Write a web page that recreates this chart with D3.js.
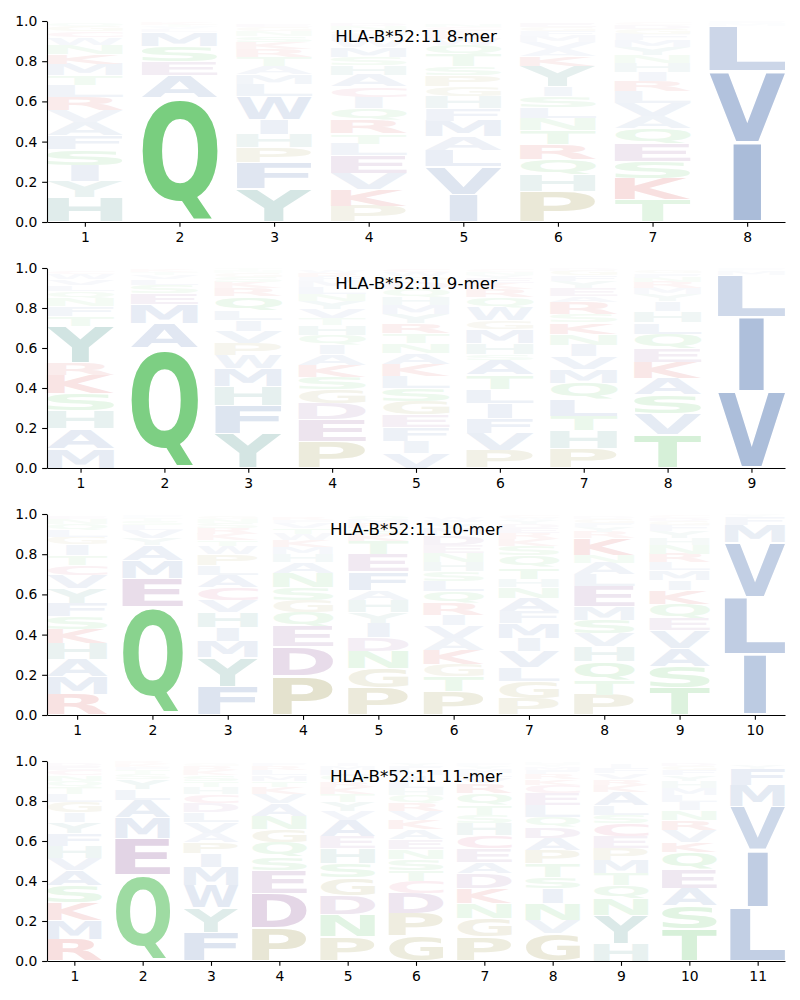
<!DOCTYPE html>
<html><head><meta charset="utf-8">
<script src="https://cdn.jsdelivr.net/npm/d3@7"></script>
<style>body{margin:0;background:#fff}</style>
</head><body>
<svg id="chart" width="800" height="1000"></svg>
<script>
const titles = ["HLA-B*52:11 8-mer","HLA-B*52:11 9-mer","HLA-B*52:11 10-mer","HLA-B*52:11 11-mer"];
const yTicks = [0,0.2,0.4,0.6,0.8,1.0];

// each column: letters stacked bottom -> top, [letter, probability]
const mer8 = [
 [["H",.12],["Y",.083],["I",.08],["S",.078],["F",.07],["A",.066],["V",.058],["R",.066],["L",.059],["T",.049],["M",.058],["K",.05],["N",.045],["W",.035],["C",.03],["G",.025],["Q",.018]],
 [["Q",.62],["A",.11],["E",.07],["S",.075],["M",.07],["L",.015],["V",.01],["T",.01],["K",.01]],
 [["Y",.165],["F",.13],["P",.075],["H",.065],["I",.075],["W",.115],["L",.06],["M",.05],["A",.04],["T",.045],["R",.04],["K",.035],["S",.03],["N",.025],["G",.02],["E",.015]],
 [["P",.08],["K",.083],["V",.078],["E",.09],["L",.058],["T",.05],["R",.067],["Q",.058],["I",.058],["C",.05],["A",.058],["H",.05],["S",.04],["M",.05],["W",.03],["F",.03],["G",.025],["N",.02],["D",.015]],
 [["I",.137],["V",.138],["L",.083],["A",.067],["M",.078],["F",.063],["H",.058],["G",.05],["P",.054],["S",.045],["T",.058],["Q",.05],["W",.03],["R",.025],["K",.02],["C",.015],["N",.015]],
 [["P",.154],["H",.083],["Q",.077],["R",.073],["T",.071],["N",.058],["L",.053],["S",.055],["I",.05],["Y",.099],["K",.05],["A",.035],["V",.035],["M",.03],["F",.025],["G",.02],["E",.02]],
 [["T",.11],["K",.107],["S",.082],["E",.091],["Q",.075],["A",.06],["V",.065],["L",.058],["R",.053],["I",.045],["H",.045],["N",.04],["Y",.04],["M",.035],["F",.03],["G",.025],["D",.02],["C",.01]],
 [["I",.395],["V",.354],["L",.225],["M",.01],["F",.01]]
];
const mer9 = [
 [["M",.098],["A",.1],["H",.089],["S",.086],["K",.092],["R",.062],["Y",.183],["T",.05],["F",.05],["N",.04],["Q",.035],["L",.03],["V",.03],["W",.025],["C",.015]],
 [["Q",.6],["A",.125],["M",.095],["E",.055],["S",.04],["L",.03],["V",.02],["T",.015],["K",.01]],
 [["Y",.173],["F",.14],["H",.095],["M",.09],["W",.065],["P",.06],["V",.06],["I",.055],["L",.05],["Q",.07],["R",.04],["K",.03],["S",.025],["G",.02],["N",.01],["T",.01]],
 [["P",.132],["E",.11],["D",.08],["G",.072],["S",.062],["K",.058],["A",.053],["I",.047],["Q",.05],["H",.05],["T",.033],["V",.045],["Y",.04],["N",.035],["L",.035],["M",.03],["F",.025],["R",.02],["W",.015]],
 [["V",.075],["I",.06],["F",.07],["E",.06],["G",.07],["S",.065],["L",.06],["K",.06],["A",.055],["N",.05],["T",.05],["R",.05],["Y",.045],["M",.045],["H",.04],["Q",.04],["D",.035],["P",.03],["W",.02],["C",.015]],
 [["P",.087],["V",.086],["F",.075],["I",.075],["L",.07],["T",.072],["A",.075],["S",.03],["H",.055],["M",.067],["G",.045],["W",.065],["Q",.05],["R",.04],["K",.03],["E",.025],["Y",.02],["N",.015],["C",.01]],
 [["P",.098],["H",.089],["T",.073],["L",.083],["Q",.08],["M",.07],["V",.064],["I",.058],["N",.055],["K",.057],["S",.04],["R",.06],["A",.03],["E",.04],["Y",.035],["F",.03],["G",.025],["D",.01]],
 [["T",.165],["V",.105],["S",.095],["A",.083],["K",.079],["E",.071],["Q",.072],["L",.057],["H",.055],["I",.05],["Y",.035],["M",.03],["R",.03],["N",.025],["F",.02],["G",.015]],
 [["V",.382],["I",.375],["L",.21],["M",.02],["F",.01]]
];
const mer10 = [
 [["R",.1],["M",.091],["A",.087],["H",.078],["K",.072],["S",.061],["F",.067],["Y",.074],["V",.067],["C",.05],["T",.047],["I",.053],["G",.04],["L",.035],["Q",.03],["N",.025],["E",.015]],
 [["Q",.54],["E",.14],["M",.09],["A",.075],["Y",.035],["V",.04],["L",.025],["S",.02],["T",.015],["F",.01]],
 [["F",.141],["Y",.144],["M",.08],["I",.07],["H",.076],["V",.061],["C",.062],["A",.063],["L",.049],["P",.054],["W",.04],["T",.03],["K",.03],["R",.03],["S",.025],["N",.02],["G",.015]],
 [["P",.196],["D",.144],["E",.1],["Q",.071],["G",.061],["S",.062],["N",.071],["A",.055],["H",.04],["M",.035],["K",.035],["W",.03],["T",.03],["V",.025],["F",.015],["R",.015]],
 [["P",.136],["G",.096],["N",.087],["D",.066],["I",.071],["Y",.053],["H",.063],["A",.05],["F",.09],["E",.085],["T",.066],["K",.035],["S",.03],["R",.025],["M",.02],["Q",.015]],
 [["P",.116],["T",.075],["G",.061],["K",.071],["A",.058],["V",.063],["I",.053],["R",.059],["Q",.058],["L",.053],["S",.046],["H",.047],["N",.045],["E",.04],["D",.05],["M",.03],["Y",.025],["F",.02],["W",.015]],
 [["P",.083],["G",.083],["L",.07],["V",.079],["I",.066],["M",.075],["F",.058],["A",.067],["N",.055],["H",.04],["T",.058],["Q",.058],["S",.047],["K",.035],["R",.03],["E",.025],["D",.02],["Y",.02],["W",.01],["C",.01]],
 [["P",.1],["T",.074],["Q",.094],["H",.072],["V",.066],["S",.067],["M",.066],["E",.1],["L",.058],["A",.058],["N",.041],["K",.083],["R",.03],["Y",.025],["F",.02],["G",.02],["D",.01]],
 [["T",.136],["S",.105],["A",.091],["V",.088],["E",.061],["Q",.072],["K",.066],["I",.05],["M",.049],["L",.04],["R",.044],["N",.045],["H",.035],["Y",.035],["F",.03],["G",.02],["D",.015],["C",.01]],
 [["I",.3],["L",.284],["V",.273],["M",.088],["F",.04],["Y",.01]]
];
const mer11 = [
 [["R",.108],["M",.095],["K",.089],["S",.083],["A",.078],["V",.062],["H",.06],["F",.062],["Y",.057],["I",.047],["G",.053],["L",.04],["T",.035],["Q",.03],["N",.03],["C",.025],["E",.02],["D",.015]],
 [["Q",.432],["E",.183],["M",.1],["A",.088],["L",.055],["Y",.05],["S",.025],["T",.02],["F",.015],["K",.015],["R",.01]],
 [["F",.142],["Y",.123],["W",.113],["M",.092],["I",.067],["P",.058],["A",.045],["V",.055],["L",.05],["D",.045],["C",.045],["H",.035],["T",.03],["S",.03],["K",.025],["R",.02],["G",.01]],
 [["P",.165],["D",.172],["E",.116],["S",.067],["Q",.072],["G",.066],["N",.067],["A",.062],["V",.048],["K",.035],["T",.03],["M",.03],["L",.025],["R",.02],["F",.015]],
 [["P",.12],["N",.112],["D",.096],["G",.087],["S",.072],["H",.075],["E",.058],["A",.083],["V",.045],["Y",.047],["T",.04],["K",.035],["R",.03],["Q",.03],["L",.025],["M",.02],["I",.015]],
 [["G",.125],["P",.115],["D",.1],["C",.06],["T",.055],["S",.055],["N",.05],["E",.05],["A",.05],["K",.045],["V",.045],["R",.04],["Q",.04],["H",.035],["L",.035],["I",.03],["M",.025],["F",.02],["Y",.015]],
 [["P",.12],["G",.092],["N",.075],["K",.075],["D",.075],["A",.058],["E",.067],["C",.066],["H",.059],["S",.041],["T",.05],["Q",.059],["R",.05],["V",.03],["L",.025],["M",.02],["Y",.015],["F",.01]],
 [["G",.137],["V",.066],["N",.084],["I",.075],["S",.058],["T",.067],["P",.066],["A",.062],["D",.055],["Q",.05],["L",.058],["E",.059],["C",.041],["K",.03],["R",.025],["F",.02],["M",.015],["Y",.01],["H",.01]],
 [["H",.087],["Y",.141],["N",.084],["Q",.066],["T",.059],["M",.066],["P",.059],["E",.058],["C",.067],["S",.041],["L",.05],["A",.067],["K",.035],["R",.03],["V",.03],["F",.025],["I",.02]],
 [["T",.162],["S",.113],["A",.09],["E",.093],["Q",.087],["K",.05],["V",.058],["R",.05],["N",.05],["I",.04],["L",.035],["M",.035],["H",.035],["Y",.03],["F",.025],["G",.02],["D",.015]],
 [["L",.27],["I",.283],["V",.217],["M",.108],["F",.084],["Y",.02]]
];

const letterGroup = {A:"hyd",V:"hyd",L:"hyd",I:"hyd",M:"hyd",F:"hyd",W:"hyd",
  Q:"pol",S:"pol",T:"pol",N:"pol", Y:"aro",H:"aro", P:"sml",G:"sml", D:"acd",E:"acd", K:"bas",R:"bas", C:"cys"};
const groupColor = {hyd:"rgb(76,114,176)", pol:"rgb(68,186,76)", aro:"rgb(64,141,132)",
  sml:"rgb(150,142,60)", acd:"rgb(135,75,145)", bas:"rgb(205,45,45)", cys:"rgb(205,60,110)"};

const datasets = [mer8, mer9, mer10, mer11];
const layout = [{top:21,bottom:222},{top:268,bottom:468},{top:514,bottom:715},{top:761,bottom:961}];
const left = 47, right = 785;
const FONT = '"DejaVu Sans", sans-serif';

const svg = d3.select("#chart");
const ctx = document.createElement("canvas").getContext("2d");
const FS = 100;
ctx.font = `bold ${FS}px "DejaVu Sans"`;
const inkCache = {};
function ink(c){
  if(!inkCache[c]){
    const m = ctx.measureText(c);
    inkCache[c] = {l:-m.actualBoundingBoxLeft, r:m.actualBoundingBoxRight, t:-m.actualBoundingBoxAscent, b:m.actualBoundingBoxDescent};
  }
  return inkCache[c];
}
const eInk = ink("E");
const eW = eInk.r - eInk.l;
const vpad = 0.05;
const shade = v => Math.min(1, 1.1 * Math.pow(v, 0.9));

datasets.forEach((data, pi) => {
  const n = data.length;
  const L = layout[pi];
  const x = d3.scaleLinear().domain([0.6, n + 0.4]).range([left, right]);
  const y = d3.scaleLinear().domain([0, 1]).range([L.bottom, L.top]);
  const g = svg.append("g");
  data.forEach((col, ci) => {
    const pos = ci + 1;
    let cum = 0;
    const W = x(pos + 0.4) - x(pos - 0.4);
    const xc = x(pos);
    col.forEach(([c, v]) => {
      const yTop = y(cum + v), yBot = y(cum);
      cum += v;
      const H = yBot - yTop;
      const gh = H * (1 - vpad);
      const k = ink(c);
      const iw = k.r - k.l, ih = k.b - k.t;
      const hs = Math.min(W / iw, W / eW);
      const vs = gh / ih;
      const tx = xc - hs * (k.l + k.r) / 2;
      const ty = yTop + H * vpad / 2 - vs * k.t;
      const fill = d3.interpolateRgb("#ffffff", groupColor[letterGroup[c]])(shade(v));
      g.append("text")
        .attr("transform", `translate(${tx},${ty}) scale(${hs},${vs})`)
        .attr("font-family", FONT).attr("font-weight", "bold").attr("font-size", FS)
        .attr("fill", fill).text(c);
    });
  });
  const xa = g.append("g").attr("transform", `translate(0,${L.bottom})`)
    .call(d3.axisBottom(x).tickValues(d3.range(1, n + 1)).tickFormat(d3.format("d"))
      .tickSize(4.86).tickPadding(4.86).tickSizeOuter(0));
  const ya = g.append("g").attr("transform", `translate(${left},0)`)
    .call(d3.axisLeft(y).tickValues(yTicks).tickFormat(d3.format(".1f"))
      .tickSize(4.86).tickPadding(4.86).tickSizeOuter(0));
  [xa, ya].forEach(a => {
    a.attr("font-family", FONT).attr("font-size", 13.9);
    a.selectAll("path,line").attr("stroke", "#000").attr("stroke-width", 1.1);
    a.selectAll("text").attr("fill", "#000");
  });
  g.append("text").attr("x", (left + right) / 2).attr("y", L.top + 21)
    .attr("text-anchor", "middle").attr("font-family", FONT).attr("font-size", 16.67)
    .attr("fill", "#000").text(titles[pi]);
});
</script>
</body></html>
